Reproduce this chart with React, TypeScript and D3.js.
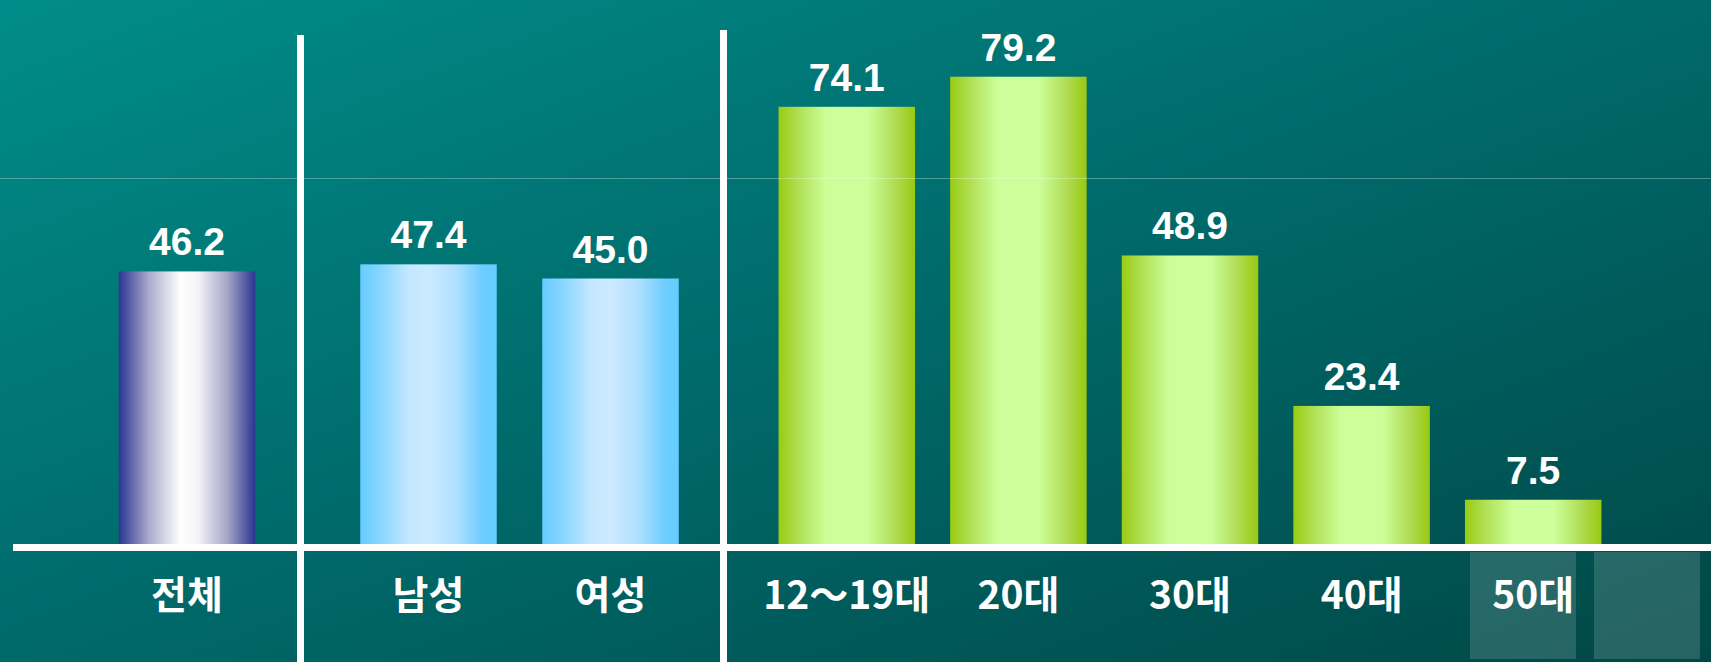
import React, { useEffect } from "react";
import * as d3 from "d3";

const W = 1711;
const H = 662;

// ---- data ----
const totalCategories = ["전체"];
const totalValues = [46.2];
const genderCategories = ["남성", "여성"];
const genderValues = [47.4, 45.0];
const ageCategories = ["12～19대", "20대", "30대", "40대", "50대"];
const ageValues = [74.1, 79.2, 48.9, 23.4, 7.5];

const yDomain = [0, 80];

// ---- layout constants ----
const BASE_Y = 544;
const TOP_Y = 72;
const BAR_W = 136.5;

type Group = { cats: string[]; vals: number[]; range: [number, number]; grad: string };

const groups: Group[] = [
  { cats: totalCategories, vals: totalValues, range: [96, 278], grad: "gNavy" },
  { cats: genderCategories, vals: genderValues, range: [337.5, 701.5], grad: "gBlue" },
  { cats: ageCategories, vals: ageValues, range: [761, 1619], grad: "gGreen" },
];

function bandFor(g: Group) {
  const step = (g.range[1] - g.range[0]) / g.cats.length;
  const pi = 1 - BAR_W / step;
  return d3.scaleBand<string>().domain(g.cats).range(g.range).paddingInner(pi).paddingOuter(pi / 2);
}

export default function App() {
  useEffect(() => {
    document.body.style.margin = "0";
    document.body.style.overflow = "hidden";
  }, []);

  const y = d3.scaleLinear().domain(yDomain).range([BASE_Y, TOP_Y]);
  const bands = groups.map(bandFor);
  const ageBand = bands[2];
  const lastAge = ageCategories[ageCategories.length - 1];
  const boxX = (ageBand(lastAge) ?? 0) + 5;

  const valueFont = "'Liberation Sans', Arial, sans-serif";
  const labelFont = "'Noto Sans CJK KR', 'Noto Sans', sans-serif";

  return (
    <svg width={W} height={H} style={{ display: "block", position: "absolute", left: 0, top: 0 }}>
      <defs>
        <linearGradient id="bg" x1="0" y1="0" x2="1" y2="1">
          <stop offset="0" stopColor="#008d89" />
          <stop offset="0.5" stopColor="#00696a" />
          <stop offset="1" stopColor="#004846" />
        </linearGradient>
        <linearGradient id="gNavy" x1="0" y1="0" x2="1" y2="0">
          <stop offset="0" stopColor="#2a3590" />
          <stop offset="0.22" stopColor="#a9a9cc" />
          <stop offset="0.45" stopColor="#ffffff" />
          <stop offset="0.58" stopColor="#f4f4f8" />
          <stop offset="0.8" stopColor="#a3a3c6" />
          <stop offset="1" stopColor="#2a3590" />
        </linearGradient>
        <linearGradient id="gBlue" x1="0" y1="0" x2="1" y2="0">
          <stop offset="0" stopColor="#66ccff" />
          <stop offset="0.15" stopColor="#88d6ff" />
          <stop offset="0.35" stopColor="#c2e7ff" />
          <stop offset="0.5" stopColor="#cdeaff" />
          <stop offset="0.7" stopColor="#b0e0ff" />
          <stop offset="0.9" stopColor="#6dcdff" />
          <stop offset="1" stopColor="#66ccff" />
        </linearGradient>
        <linearGradient id="gGreen" x1="0" y1="0" x2="1" y2="0">
          <stop offset="0" stopColor="#99cc11" />
          <stop offset="0.15" stopColor="#b0e055" />
          <stop offset="0.35" stopColor="#ccff99" />
          <stop offset="0.65" stopColor="#ccff99" />
          <stop offset="0.85" stopColor="#b0dd55" />
          <stop offset="1" stopColor="#99c811" />
        </linearGradient>
      </defs>

      <rect x={0} y={0} width={W} height={H} fill="url(#bg)" />

      {/* empty label boxes at lower right */}
      <rect x={boxX} y={552} width={106} height={107} fill="#ffffff" fillOpacity={0.15} />
      <rect x={boxX + 124} y={552} width={106} height={107} fill="#ffffff" fillOpacity={0.15} />

      {groups.map((g, gi) =>
        g.cats.map((c, i) => {
          const bx = bands[gi](c) ?? 0;
          const bw = bands[gi].bandwidth();
          const top = y(g.vals[i]);
          return (
            <g key={c}>
              <rect x={bx} y={top} width={bw} height={BASE_Y - top} fill={`url(#${g.grad})`} />
              <text
                x={bx + bw / 2}
                y={top - 16}
                textAnchor="middle"
                fill="#ffffff"
                fontFamily={valueFont}
                fontWeight="bold"
                fontSize={39}
              >
                {d3.format(".1f")(g.vals[i])}
              </text>
              <text
                x={bx + bw / 2}
                y={609}
                textAnchor="middle"
                fill="#ffffff"
                fontFamily={labelFont}
                fontWeight="bold"
                fontSize={39}
              >
                {c}
              </text>
            </g>
          );
        })
      )}

      {/* faint reference line */}
      <line x1={0} x2={W} y1={178.5} y2={178.5} stroke="#ffffff" strokeOpacity={0.3} strokeWidth={1} />

      {/* axis and separators */}
      <rect x={13} y={BASE_Y} width={W - 13} height={7} fill="#ffffff" />
      <rect x={297} y={35} width={7} height={H - 35} fill="#ffffff" />
      <rect x={720} y={30} width={7} height={H - 30} fill="#ffffff" />
    </svg>
  );
}
